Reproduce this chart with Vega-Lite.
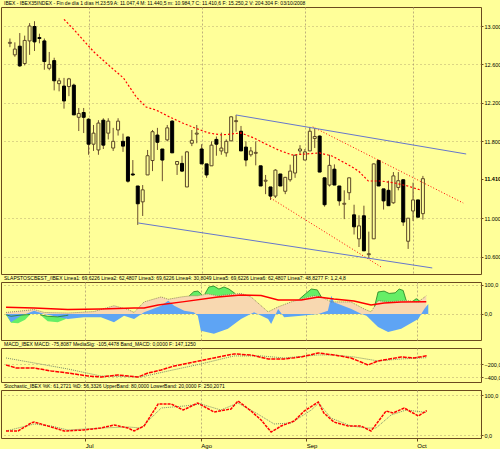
{
  "$schema": "https://vega.github.io/schema/vega-lite/v6.json",
  "background": "#FFFF99",
  "padding": 0,
  "spacing": 8,
  "bounds": "flush",
  "config": {
    "view": {"fill": "#FFFF99", "stroke": "#6B4A1E", "strokeWidth": 1},
    "axis": {"labelFont": "Liberation Sans", "labelFontSize": 5.5, "labelColor": "#000000", "tickColor": "#6B4A1E", "tickSize": 2, "labelPadding": 1, "domain": false, "gridColor": "#A89868", "gridDash": [1, 3], "gridOpacity": 0.9, "labelOverlap": false},
    "title": {"fontSize": 5, "font": "Liberation Sans Narrow, Liberation Sans", "anchor": "start", "frame": "group", "offset": 1, "color": "#000000", "fontWeight": "normal", "dx": 3}
  },
  "datasets": {
    "candles": [
      {"i":0,"o":12820,"h":12870,"l":12780,"c":12830},
      {"i":1,"o":12700,"h":12830,"l":12680,"c":12760},
      {"i":2,"o":12790,"h":12927,"l":12575,"c":12585},
      {"i":3,"o":12610,"h":12900,"l":12590,"c":12850},
      {"i":4,"o":12845,"h":13030,"l":12700,"c":13000},
      {"i":5,"o":12995,"h":13050,"l":12740,"c":12835},
      {"i":6,"o":12880,"h":12920,"l":12820,"c":12870},
      {"i":7,"o":12845,"h":12870,"l":12545,"c":12630},
      {"i":8,"o":12560,"h":12730,"l":12540,"c":12600},
      {"i":9,"o":12640,"h":12670,"l":12330,"c":12430},
      {"i":10,"o":12400,"h":12460,"l":12320,"c":12430},
      {"i":11,"o":12375,"h":12460,"l":12140,"c":12220},
      {"i":12,"o":12370,"h":12460,"l":12270,"c":12450},
      {"i":13,"o":12385,"h":12400,"l":12075,"c":12075},
      {"i":14,"o":12050,"h":12147,"l":11907,"c":12090},
      {"i":15,"o":12100,"h":12147,"l":11886,"c":12050},
      {"i":16,"o":12030,"h":12040,"l":11660,"c":11770},
      {"i":17,"o":11770,"h":11970,"l":11700,"c":11885},
      {"i":18,"o":11710,"h":12020,"l":11660,"c":11990},
      {"i":19,"o":12020,"h":12040,"l":11720,"c":11760},
      {"i":20,"o":11885,"h":12040,"l":11820,"c":12010},
      {"i":21,"o":11730,"h":11940,"l":11700,"c":11800},
      {"i":22,"o":11918,"h":12040,"l":11860,"c":12010},
      {"i":23,"o":11800,"h":11880,"l":11690,"c":11750},
      {"i":24,"o":11845,"h":11850,"l":11370,"c":11385},
      {"i":25,"o":11460,"h":11605,"l":11440,"c":11450},
      {"i":26,"o":11335,"h":11335,"l":10930,"c":11150},
      {"i":27,"o":11170,"h":11345,"l":11023,"c":11295},
      {"i":28,"o":11450,"h":11710,"l":11450,"c":11650},
      {"i":29,"o":11600,"h":11918,"l":11490,"c":11900},
      {"i":30,"o":11865,"h":11940,"l":11710,"c":11790},
      {"i":31,"o":11720,"h":11720,"l":11385,"c":11605},
      {"i":32,"o":11815,"h":11970,"l":11800,"c":11940},
      {"i":33,"o":12010,"h":12020,"l":11680,"c":11680},
      {"i":34,"o":11560,"h":11595,"l":11450,"c":11590},
      {"i":35,"o":11570,"h":11650,"l":11480,"c":11490},
      {"i":36,"o":11325,"h":11700,"l":11325,"c":11690},
      {"i":37,"o":11780,"h":11918,"l":11750,"c":11810},
      {"i":38,"o":11875,"h":11970,"l":11780,"c":11885},
      {"i":39,"o":11720,"h":11770,"l":11565,"c":11565},
      {"i":40,"o":11565,"h":11565,"l":11420,"c":11450},
      {"i":41,"o":11545,"h":11800,"l":11545,"c":11760},
      {"i":42,"o":11820,"h":11850,"l":11650,"c":11770},
      {"i":43,"o":11700,"h":11890,"l":11660,"c":11730},
      {"i":44,"o":11680,"h":11820,"l":11640,"c":11800},
      {"i":45,"o":11805,"h":12060,"l":11800,"c":12055},
      {"i":46,"o":12005,"h":12075,"l":11900,"c":12015},
      {"i":47,"o":11905,"h":11960,"l":11700,"c":11700},
      {"i":48,"o":11740,"h":11800,"l":11540,"c":11605},
      {"i":49,"o":11660,"h":11740,"l":11640,"c":11700},
      {"i":50,"o":11675,"h":11800,"l":11550,"c":11685},
      {"i":51,"o":11545,"h":11545,"l":11335,"c":11335},
      {"i":52,"o":11385,"h":11450,"l":11250,"c":11395},
      {"i":53,"o":11325,"h":11325,"l":11190,"c":11230},
      {"i":54,"o":11230,"h":11510,"l":11210,"c":11500},
      {"i":55,"o":11460,"h":11460,"l":11335,"c":11335},
      {"i":56,"o":11280,"h":11430,"l":11250,"c":11425},
      {"i":57,"o":11400,"h":11557,"l":11380,"c":11490},
      {"i":58,"o":11470,"h":11660,"l":11420,"c":11655},
      {"i":59,"o":11700,"h":11760,"l":11660,"c":11720},
      {"i":60,"o":11605,"h":11720,"l":11605,"c":11690},
      {"i":61,"o":11700,"h":11950,"l":11700,"c":11905},
      {"i":62,"o":11830,"h":11940,"l":11730,"c":11850},
      {"i":63,"o":11855,"h":11860,"l":11480,"c":11480},
      {"i":64,"o":11420,"h":11420,"l":11120,"c":11140},
      {"i":65,"o":11345,"h":11660,"l":11330,"c":11550},
      {"i":66,"o":11510,"h":11560,"l":11345,"c":11345},
      {"i":67,"o":11335,"h":11335,"l":11130,"c":11180},
      {"i":68,"o":11145,"h":11290,"l":10990,"c":11155},
      {"i":69,"o":11265,"h":11420,"l":11190,"c":11420},
      {"i":70,"o":11035,"h":11140,"l":10830,"c":10910},
      {"i":71,"o":10785,"h":11030,"l":10700,"c":10920},
      {"i":72,"o":11025,"h":11130,"l":10660,"c":10660},
      {"i":73,"o":10620,"h":10860,"l":10580,"c":10630},
      {"i":74,"o":10785,"h":11570,"l":10785,"c":11565},
      {"i":75,"o":11600,"h":11610,"l":11335,"c":11335},
      {"i":76,"o":11305,"h":11305,"l":11090,"c":11180},
      {"i":77,"o":11290,"h":11390,"l":11130,"c":11130},
      {"i":78,"o":11160,"h":11480,"l":11150,"c":11440},
      {"i":79,"o":11320,"h":11480,"l":11290,"c":11390},
      {"i":80,"o":11400,"h":11400,"l":10920,"c":10960},
      {"i":81,"o":10760,"h":11000,"l":10680,"c":11000},
      {"i":82,"o":11075,"h":11370,"l":10970,"c":11190},
      {"i":83,"o":11190,"h":11190,"l":11010,"c":11010},
      {"i":84,"o":11047,"h":11440,"l":10985,"c":11411}
    ],
    "ma": [
      {"i":11,"v":13070},{"i":13.1,"v":12958},{"i":17.1,"v":12729},{"i":20.5,"v":12573},{"i":23.1,"v":12459},
      {"i":25.7,"v":12261},{"i":27.7,"v":12157},{"i":29.7,"v":12126},{"i":32.5,"v":12053},{"i":35.1,"v":11991},
      {"i":37.6,"v":11939},{"i":40.4,"v":11887},{"i":43,"v":11866},{"i":47,"v":11887},{"i":49.6,"v":11835},
      {"i":51.6,"v":11783},{"i":54.6,"v":11710},{"i":57.4,"v":11658},{"i":63,"v":11679},{"i":65.5,"v":11647},
      {"i":68.9,"v":11554},{"i":70.9,"v":11491},{"i":72.9,"v":11387},{"i":75.5,"v":11387},{"i":78.3,"v":11366},
      {"i":80.9,"v":11335},{"i":83.5,"v":11293}
    ],
    "redtl": [
      {"i":61.6,"v":11950,"g":"a"},{"i":92.2,"v":11158,"g":"a"},
      {"i":53,"v":11210,"g":"b"},{"i":75.5,"v":10492,"g":"b"}
    ],
    "bluetl": [
      {"i":46,"v":12074,"g":"a"},{"i":92.8,"v":11668,"g":"a"},
      {"i":26.1,"v":10950,"g":"b"},{"i":85.9,"v":10482,"g":"b"}
    ],
    "peach": [
      {"i":0.2,"p":5},{"i":3.2,"p":10},{"i":5.8,"p":15},{"i":7.8,"p":5},{"i":12.5,"p":3},{"i":17.7,"p":8},
      {"i":21.7,"p":28},{"i":24.5,"p":15},{"i":25.7,"p":5},{"i":27.7,"p":41},{"i":31.1,"p":58},{"i":32.5,"p":50},
      {"i":35.1,"p":58},{"i":37.1,"p":62},{"i":38.4,"p":62},{"i":40.4,"p":68},{"i":42.4,"p":62},{"i":44.4,"p":66},
      {"i":47,"p":70},{"i":49,"p":58},{"i":51,"p":28},{"i":52.4,"p":7},{"i":54.4,"p":24},{"i":57,"p":41},
      {"i":59,"p":51},{"i":61.6,"p":62},{"i":63,"p":58},{"i":65,"p":41},{"i":68.9,"p":41},{"i":71.5,"p":17},
      {"i":72.9,"p":7},{"i":74.3,"p":45},{"i":76.9,"p":42},{"i":78.9,"p":45},{"i":80.3,"p":45},{"i":82.3,"p":41},
      {"i":83.9,"p":62}
    ],
    "green": [
      {"s":1,"i":0.2,"t":-3,"b":-3},{"s":1,"i":1.2,"t":-8,"b":-30},{"s":1,"i":2.6,"t":-5,"b":-32},{"s":1,"i":4,"t":-3,"b":-20},{"s":1,"i":5,"t":-2,"b":-2},
      {"s":2,"i":7,"t":-3,"b":-3},{"s":2,"i":8.5,"t":-8,"b":-25},{"s":2,"i":10.5,"t":-10,"b":-28},{"s":2,"i":12,"t":-6,"b":-18},{"s":2,"i":12.6,"t":-4,"b":-4},
      {"s":3,"i":36.7,"t":62,"b":62},{"s":3,"i":37.6,"t":76,"b":62},{"s":3,"i":38.4,"t":78,"b":62},{"s":3,"i":39.2,"t":66,"b":66},
      {"s":4,"i":39.8,"t":68,"b":68},{"s":4,"i":40.6,"t":92,"b":68},{"s":4,"i":41.6,"t":95,"b":65},{"s":4,"i":42.6,"t":85,"b":62},{"s":4,"i":43.6,"t":92,"b":65},{"s":4,"i":44.6,"t":85,"b":66},{"s":4,"i":45.8,"t":70,"b":70},
      {"s":5,"i":58.6,"t":50,"b":50},{"s":5,"i":59.8,"t":68,"b":55},{"s":5,"i":61,"t":85,"b":60},{"s":5,"i":62.2,"t":82,"b":62},{"s":5,"i":63,"t":58,"b":58},
      {"s":6,"i":73.6,"t":25,"b":25},{"s":6,"i":74.3,"t":75,"b":45},{"s":6,"i":75.5,"t":78,"b":42},{"s":6,"i":76.5,"t":70,"b":42},{"s":6,"i":77.7,"t":72,"b":43},{"s":6,"i":78.5,"t":85,"b":45},{"s":6,"i":79.3,"t":80,"b":45},{"s":6,"i":79.9,"t":46,"b":46},
      {"s":7,"i":81.2,"t":43,"b":43},{"s":7,"i":81.9,"t":52,"b":42},{"s":7,"i":82.6,"t":44,"b":44}
    ],
    "blue": [
      {"i":0.2,"c":0},{"i":1.2,"c":-28},{"i":3.2,"c":-6},{"i":5.8,"c":11},{"i":7.8,"c":0},{"i":12.5,"c":-17},
      {"i":15.7,"c":-11},{"i":19.1,"c":-11},{"i":21.7,"c":-28},{"i":23.7,"c":-6},{"i":25.7,"c":-17},{"i":27.7,"c":6},
      {"i":31.1,"c":28},{"i":32.5,"c":45},{"i":33.7,"c":28},{"i":35.7,"c":11},{"i":37.6,"c":6},{"i":38.4,"c":-6},
      {"i":39,"c":-57},{"i":41.6,"c":-68},{"i":44.4,"c":-51},{"i":47,"c":-17},{"i":49.6,"c":6},{"i":52.4,"c":-17},
      {"i":53,"c":-34},{"i":54.4,"c":17},{"i":55.6,"c":-11},{"i":59,"c":-6},{"i":62.4,"c":0},{"i":64.3,"c":11},
      {"i":65,"c":62},{"i":65.5,"c":40},{"i":69,"c":17},{"i":71,"c":0},{"i":72,"c":-6},{"i":74.3,"c":-45},
      {"i":76.3,"c":-62},{"i":78.9,"c":-51},{"i":82.3,"c":-17},{"i":83.5,"c":17},{"i":84.3,"c":34}
    ],
    "redosc": [
      {"i":0.2,"d":23},{"i":5.8,"d":20.5},{"i":12.5,"d":14.7},{"i":19.1,"d":17},{"i":25.7,"d":20.5},{"i":27.7,"d":20.5},
      {"i":30.5,"d":30.7},{"i":35.7,"d":42},{"i":42.4,"d":58},{"i":47,"d":65},{"i":51,"d":62.5},{"i":54.4,"d":47.8},
      {"i":59,"d":47.8},{"i":62.4,"d":58},{"i":65.5,"d":51},{"i":69.5,"d":44},{"i":72.9,"d":30.7},{"i":75.5,"d":37.5},
      {"i":78.9,"d":41},{"i":83.9,"d":42}
    ],
    "macd": [
      {"i":0.2,"m":-214},{"i":2.2,"m":-259},{"i":5.8,"m":-259},{"i":9.2,"m":-304},{"i":12.5,"m":-334},{"i":16.5,"m":-379},
      {"i":19.1,"m":-394},{"i":22.5,"m":-364},{"i":26.5,"m":-394},{"i":28.5,"m":-334},{"i":31.1,"m":-289},{"i":33.7,"m":-229},
      {"i":37.6,"m":-169},{"i":41.6,"m":-109},{"i":45.6,"m":-49},{"i":49,"m":-64},{"i":52.4,"m":-124},{"i":55.6,"m":-124},
      {"i":59,"m":-94},{"i":62.4,"m":-34},{"i":65.5,"m":-64},{"i":68.9,"m":-109},{"i":72.3,"m":-214},{"i":74.3,"m":-154},
      {"i":78.9,"m":-94},{"i":81.5,"m":-109},{"i":84,"m":-76}
    ],
    "signal": [
      {"i":0.2,"s":-109},{"i":5.8,"s":-184},{"i":12.5,"s":-274},{"i":19.1,"s":-379},{"i":27.1,"s":-394},{"i":32.5,"s":-304},
      {"i":39,"s":-199},{"i":45.6,"s":-79},{"i":51,"s":-79},{"i":55.6,"s":-109},{"i":62.4,"s":-64},{"i":65.5,"s":-64},
      {"i":69.5,"s":-94},{"i":74.3,"s":-154},{"i":78.9,"s":-124},{"i":84,"s":-105}
    ],
    "stk": [
      {"i":0.2,"k":10},{"i":2.6,"k":10},{"i":5.2,"k":30},{"i":5.8,"k":32.5},{"i":9.2,"k":20},{"i":11.8,"k":10},
      {"i":15.7,"k":12.5},{"i":19.1,"k":17.5},{"i":21.7,"k":25},{"i":24.5,"k":17.5},{"i":25.7,"k":10},{"i":27.7,"k":22.5},
      {"i":30.5,"k":77.5},{"i":33.1,"k":77.5},{"i":35.5,"k":62.5},{"i":38.4,"k":80},{"i":41.6,"k":57.5},{"i":45,"k":65},
      {"i":46.4,"k":85},{"i":49,"k":60},{"i":51,"k":37.5},{"i":53,"k":7.5},{"i":55,"k":22.5},{"i":57.6,"k":35},
      {"i":59.6,"k":60},{"i":62.4,"k":82.5},{"i":63.5,"k":55},{"i":65.5,"k":32.5},{"i":68.3,"k":22.5},{"i":70.9,"k":22.5},
      {"i":72.9,"k":10},{"i":75.9,"k":60},{"i":77.3,"k":55},{"i":79.5,"k":67.5},{"i":82.3,"k":47.5},{"i":84,"k":61}
    ],
    "std": [
      {"i":0.2,"d":10},{"i":5.8,"d":27.5},{"i":9.2,"d":22.5},{"i":12.5,"d":12.5},{"i":19.1,"d":17.5},{"i":24.5,"d":20},
      {"i":27.1,"d":17.5},{"i":31.1,"d":67.5},{"i":35.7,"d":72.5},{"i":39,"d":77.5},{"i":43,"d":62.5},{"i":46.4,"d":80},
      {"i":50,"d":55},{"i":53.6,"d":27.5},{"i":57,"d":30},{"i":61,"d":62.5},{"i":62.5,"d":80},{"i":64.9,"d":42.5},
      {"i":68.9,"d":22.5},{"i":71.9,"d":17.5},{"i":73.9,"d":17.5},{"i":76.9,"d":50},{"i":79.9,"d":62.5},{"i":84,"d":56.3}
    ]
  },
  "vconcat": [
    {
      "width": 480, "height": 267,
      "title": "IBEX - IBEX35INDEX - Fin de día 1 días H.23:59 A: 11.047,4 M: 11.440,5 m: 10.984,7 C: 11.410,6 F: 15.250,2 V: 204.304 F: 03/10/2008",
      "encoding": {
        "x": {"field": "i", "type": "quantitative", "title": null, "scale": {"domain": [-0.8, 94.8], "nice": false, "zero": false},
              "axis": {"values": [16, 39, 60, 82], "labels": false, "ticks": false, "grid": true, "gridDash": [2, 2], "gridColor": "#B8A878"}}
      },
      "layer": [
        {"data": {"name": "candles"}, "mark": {"type": "rule", "color": "#6B5030", "strokeWidth": 1},
         "encoding": {"y": {"field": "l", "type": "quantitative", "title": null, "scale": {"domain": [10419, 13198], "nice": false, "zero": false},
                            "axis": {"orient": "right", "values": [10600,10800,11000,11200,11411,11600,11800,12000,12200,12400,12600,12800,13000],
                                     "labelExpr": "datum.value == 11411 ? '11.410' : replace(format(datum.value, ','), ',', '.')",
                                     "labelFontWeight": {"condition": {"test": "datum.value == 11411", "value": "bold"}, "value": "normal"},
                                     "gridOpacity": {"condition": {"test": "datum.value == 11411", "value": 0}, "value": 0.9},
                                     "grid": true}},
                      "y2": {"field": "h"}}},
        {"data": {"name": "candles"}, "mark": {"type": "bar", "width": 3, "strokeWidth": 1},
         "encoding": {"y": {"field": "o", "type": "quantitative", "title": null}, "y2": {"field": "c"},
                      "fill": {"condition": {"test": "datum.c >= datum.o", "value": "#FFFF99"}, "value": "#000000"},
                      "stroke": {"condition": {"test": "datum.c >= datum.o", "value": "#5A4628"}, "value": "#000000"}}},
        {"data": {"name": "ma"}, "mark": {"type": "line", "color": "#FF0000", "strokeWidth": 1.2, "strokeDash": [2, 2]},
         "encoding": {"y": {"field": "v", "type": "quantitative", "title": null}}},
        {"data": {"name": "redtl"}, "mark": {"type": "line", "color": "#FF0000", "strokeWidth": 1, "strokeDash": [1, 2], "clip": true},
         "encoding": {"y": {"field": "v", "type": "quantitative", "title": null}, "detail": {"field": "g"}}},
        {"data": {"name": "bluetl"}, "mark": {"type": "line", "color": "#6677CC", "strokeWidth": 1},
         "encoding": {"y": {"field": "v", "type": "quantitative", "title": null}, "detail": {"field": "g"}}}
      ]
    },
    {
      "width": 480, "height": 58,
      "title": "SLAPSTOSCBEST_/IBEX Linea1: 69,6226 Linea2: 62,4807 Linea3: 69,6226 Linea4: 30,8049 Linea5: 69,6226 Linea6: 62,4807 Linea7: 48,8277 F: 1,2,4,8",
      "encoding": {
        "x": {"field": "i", "type": "quantitative", "title": null, "scale": {"domain": [-0.8, 94.8], "nice": false, "zero": false},
              "axis": {"values": [16, 39, 60, 82], "labels": false, "ticks": false, "grid": true, "gridDash": [2, 2], "gridColor": "#B8A878"}}
      },
      "layer": [
        {"data": {"name": "peach"}, "mark": {"type": "area", "color": "#F8D8B0", "opacity": 1},
         "encoding": {"y": {"field": "p", "type": "quantitative", "title": null, "scale": {"domain": [-89, 109], "nice": false, "zero": false},
                            "axis": {"orient": "right", "values": [0, 100], "labelOverlap": false,
                                     "labelExpr": "replace(format(datum.value, '.1f'), '.', ',')",
                                     "grid": true}},
                      "y2": {"datum": 0}}},
        {"data": {"name": "green"}, "mark": {"type": "area", "color": "#66EE66"},
         "encoding": {"y": {"field": "t", "type": "quantitative", "title": null}, "y2": {"field": "b"}, "detail": {"field": "s"}}},
        {"data": {"name": "blue"}, "mark": {"type": "area", "color": "#5EA4F4"},
         "encoding": {"y": {"field": "c", "type": "quantitative", "title": null}, "y2": {"datum": 0}}},
        {"data": {"name": "peach"}, "mark": {"type": "line", "color": "#7A7050", "strokeWidth": 0.8, "strokeDash": [1, 1]},
         "encoding": {"y": {"field": "p", "type": "quantitative", "title": null}}},
        {"data": {"name": "green"}, "mark": {"type": "line", "color": "#208020", "strokeWidth": 0.8},
         "encoding": {"y": {"field": "t", "type": "quantitative", "title": null}, "detail": {"field": "s"}}},
        {"data": {"name": "redosc"}, "mark": {"type": "line", "color": "#FF0000", "strokeWidth": 1.5},
         "encoding": {"y": {"field": "d", "type": "quantitative", "title": null}}}
      ]
    },
    {
      "width": 480, "height": 34,
      "title": "MACD_IBEX MACD: -75,8087 MediaSig: -105,4478 Band_MACD: 0,0000 F: 147,1250",
      "encoding": {
        "x": {"field": "i", "type": "quantitative", "title": null, "scale": {"domain": [-0.8, 94.8], "nice": false, "zero": false},
              "axis": {"values": [16, 39, 60, 82], "labels": false, "ticks": false, "grid": true, "gridDash": [2, 2], "gridColor": "#B8A878"}}
      },
      "layer": [
        {"mark": {"type": "rule", "color": "#6677CC", "strokeWidth": 1},
         "encoding": {"x": {"datum": 0, "type": "quantitative"}, "x2": {"datum": 84}, "y": {"datum": 0, "type": "quantitative", "title": null, "scale": {"domain": [-469, 40], "nice": false, "zero": false},
                      "axis": {"orient": "right", "values": [-400, -200], "labelOverlap": false,
                               "labelExpr": "replace(format(datum.value, '.1f'), '.', ',')",
                               "grid": true}}}},
        {"data": {"name": "signal"}, "mark": {"type": "line", "color": "#7A8A6A", "strokeWidth": 1, "strokeDash": [1, 1]},
         "encoding": {"y": {"field": "s", "type": "quantitative", "title": null}}},
        {"data": {"name": "macd"}, "mark": {"type": "line", "color": "#FF0000", "strokeWidth": 1.5, "strokeDash": [4, 1]},
         "encoding": {"y": {"field": "m", "type": "quantitative", "title": null}}}
      ]
    },
    {
      "width": 480, "height": 48,
      "title": "Stochastic_IBEX %K: 61,2721 %D: 56,3326 UpperBand: 80,0000 LowerBand: 20,0000 F: 250,2071",
      "encoding": {
        "x": {"field": "i", "type": "quantitative", "title": null, "scale": {"domain": [-0.8, 94.8], "nice": false, "zero": false},
              "axis": {"values": [16, 39, 60, 82], "labelExpr": "datum.value == 16 ? 'Jul' : datum.value == 39 ? 'Ago' : datum.value == 60 ? 'Sep' : 'Oct'",
                       "labelAlign": "left", "labelFontSize": 6, "ticks": true, "tickSize": 3, "grid": true, "gridDash": [2, 2], "gridColor": "#B8A878"}}
      },
      "layer": [
        {"mark": {"type": "rule", "color": "#6677CC", "strokeWidth": 1},
         "encoding": {"x": {"datum": 0, "type": "quantitative"}, "x2": {"datum": 84}, "y": {"datum": 80, "type": "quantitative", "title": null, "scale": {"domain": [-7.5, 112.5], "nice": false, "zero": false},
                      "axis": {"orient": "right", "values": [0, 50, 100], "labelOverlap": false,
                               "labelExpr": "replace(format(datum.value, '.1f'), '.', ',')",
                               "grid": true}}}},
        {"mark": {"type": "rule", "color": "#6677CC", "strokeWidth": 1},
         "encoding": {"x": {"datum": 0, "type": "quantitative"}, "x2": {"datum": 84}, "y": {"datum": 20, "type": "quantitative", "title": null}}},
        {"data": {"name": "std"}, "mark": {"type": "line", "color": "#7A8A6A", "strokeWidth": 1, "strokeDash": [1, 1]},
         "encoding": {"y": {"field": "d", "type": "quantitative", "title": null}}},
        {"data": {"name": "stk"}, "mark": {"type": "line", "color": "#FF0000", "strokeWidth": 1.5, "strokeDash": [3, 1]},
         "encoding": {"y": {"field": "k", "type": "quantitative", "title": null}}}
      ]
    }
  ]
}
